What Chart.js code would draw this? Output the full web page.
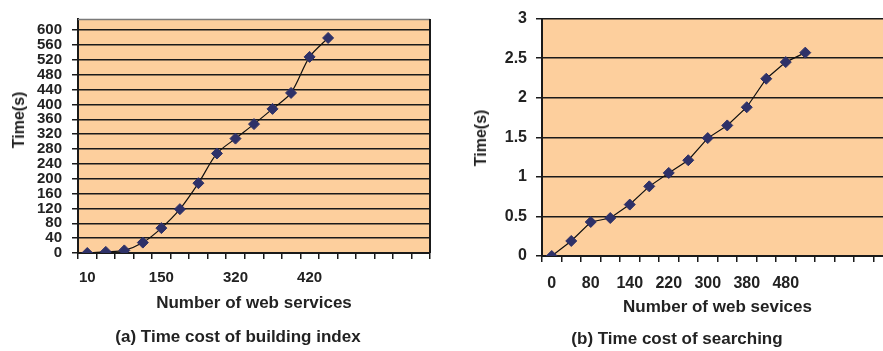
<!DOCTYPE html>
<html>
<head>
<meta charset="utf-8">
<script src="https://cdn.jsdelivr.net/npm/chart.js@4.4.1/dist/chart.umd.min.js"></script>
<style>
  html, body { margin: 0; padding: 0; background: #fff; overflow: hidden; }
  body { width: 883px; height: 351px; position: relative; font-family: 'Liberation Sans', Arial, sans-serif; font-weight: bold; color: #222; }
  .box { position: absolute; top: 0; height: 351px; }
  .ytitle { position: absolute; font-size: 16px; white-space: nowrap; transform: translate(-50%, -50%) rotate(-90deg); }
  .caption { position: absolute; font-size: 17px; white-space: nowrap; transform: translate(-50%, -50%); }
</style>
</head>
<body>
<div class="box" style="left:0;width:440px"><canvas id="chartA" width="440" height="351"></canvas></div>
<div class="box" style="left:440px;width:460px"><canvas id="chartB" width="460" height="351"></canvas></div>
<div class="ytitle" style="left:19px;top:120px">Time(s)</div>
<div class="ytitle" style="left:481px;top:138px">Time(s)</div>
<div class="caption" style="left:238px;top:337px">(a) Time cost of building index</div>
<div class="caption" style="left:677px;top:339px">(b) Time cost of searching</div>
<script>
// (a) building index - only every 4th label is printed on the axis
const servicesA = ['10', '', '', '', '150', '', '', '', '320', '', '', '', '420', '', '', '', '', '', ''];
const timeA = [0, 3, 7, 28, 67, 118, 188, 268, 308, 347, 388, 431, 528, 579];
const yTicksA = [0, 40, 80, 120, 160, 200, 240, 280, 320, 360, 400, 440, 480, 520, 560, 600];

// (b) searching - every 2nd label printed
const servicesB = ['0', '', '80', '', '140', '', '220', '', '300', '', '380', '', '480', '', '', '', '', ''];
const timeB = [0, 0.19, 0.43, 0.48, 0.65, 0.88, 1.05, 1.21, 1.49, 1.65, 1.88, 2.24, 2.45, 2.57];

Chart.defaults.font.family = "'Liberation Sans', Arial, sans-serif";
Chart.defaults.font.weight = 'bold';
Chart.defaults.color = '#222';

const PEACH = '#fdcf9d';
const INK = '#1a1a1a';

// peach plot background + optional frame on top/right
const plotFrame = {
  id: 'plotFrame',
  beforeDraw(chart, args, opts) {
    const { ctx, chartArea: a } = chart;
    ctx.save();
    ctx.fillStyle = opts.fill;
    ctx.fillRect(a.left, a.top, a.width, a.height);
    ctx.restore();
  },
  afterDraw(chart, args, opts) {
    if (!opts.frame) return;
    const { ctx, chartArea: a } = chart;
    ctx.save();
    ctx.lineWidth = 1.5;
    ctx.strokeStyle = '#7a7a7a';
    ctx.beginPath();
    ctx.moveTo(a.left, a.top + 0.5);
    ctx.lineTo(a.right, a.top + 0.5);
    ctx.stroke();
    ctx.strokeStyle = INK;
    ctx.lineWidth = 2;
    ctx.beginPath();
    ctx.moveTo(a.right, a.top);
    ctx.lineTo(a.right, a.bottom);
    ctx.stroke();
    ctx.restore();
  }
};

function lineSet(values, tension) {
  return {
    data: values,
    borderColor: '#111',
    borderWidth: 1.2,
    tension: tension,
    pointStyle: 'rectRot',
    pointRadius: 5.5,
    pointBackgroundColor: '#2e3168',
    pointBorderColor: '#2e3168',
    pointBorderWidth: 1
  };
}

new Chart(document.getElementById('chartA'), {
  type: 'line',
  data: { labels: servicesA, datasets: [lineSet(timeA, 0.3)] },
  options: {
    responsive: false,
    animation: false,
    layout: { padding: { top: 18, right: 10, left: 0, bottom: 36 } },
    plugins: { legend: { display: false }, tooltip: { enabled: false }, plotFrame: { fill: PEACH, frame: true } },
    scales: {
      x: {
        offset: true,
        grid: { offset: true, drawOnChartArea: false, tickLength: 6, color: INK, lineWidth: 1.5 },
        border: { color: INK, width: 2 },
        ticks: { autoSkip: false, maxRotation: 0, padding: 10, font: { size: 15 } },
        title: { display: true, text: 'Number of web services', font: { size: 17 }, padding: { top: 0, bottom: 1 } },
        afterFit: s => { s.height = 62; }
      },
      y: {
        min: 0,
        max: 630,
        ticks: { autoSkip: false, padding: 10, font: { size: 15 }, callback: v => String(v) },
        afterBuildTicks: s => { s.ticks = yTicksA.map(v => ({ value: v })); },
        grid: { color: INK, tickLength: 6, lineWidth: 1.5 },
        border: { color: INK, width: 2 },
        afterFit: s => { s.width = 78; }
      }
    }
  },
  plugins: [plotFrame]
});

new Chart(document.getElementById('chartB'), {
  type: 'line',
  data: { labels: servicesB, datasets: [lineSet(timeB, 0)] },
  options: {
    responsive: false,
    animation: false,
    layout: { padding: { top: 16, right: 7, left: 0, bottom: 31 } },
    plugins: { legend: { display: false }, tooltip: { enabled: false }, plotFrame: { fill: PEACH, frame: false } },
    scales: {
      x: {
        offset: true,
        grid: { offset: true, drawOnChartArea: false, tickLength: 6, color: INK, lineWidth: 1.5 },
        border: { color: INK, width: 2 },
        ticks: { autoSkip: false, maxRotation: 0, padding: 12, font: { size: 16 } },
        title: { display: true, text: 'Number of web sevices', font: { size: 17 }, padding: { top: 0, bottom: 2 } },
        afterFit: s => { s.height = 64; }
      },
      y: {
        min: 0,
        max: 3,
        ticks: { stepSize: 0.5, autoSkip: false, padding: 9, font: { size: 16 }, callback: v => String(v) },
        grid: { color: INK, tickLength: 6, lineWidth: 1.5 },
        border: { color: INK, width: 2 },
        afterFit: s => { s.width = 102; }
      }
    }
  },
  plugins: [plotFrame]
});
</script>
</body>
</html>
